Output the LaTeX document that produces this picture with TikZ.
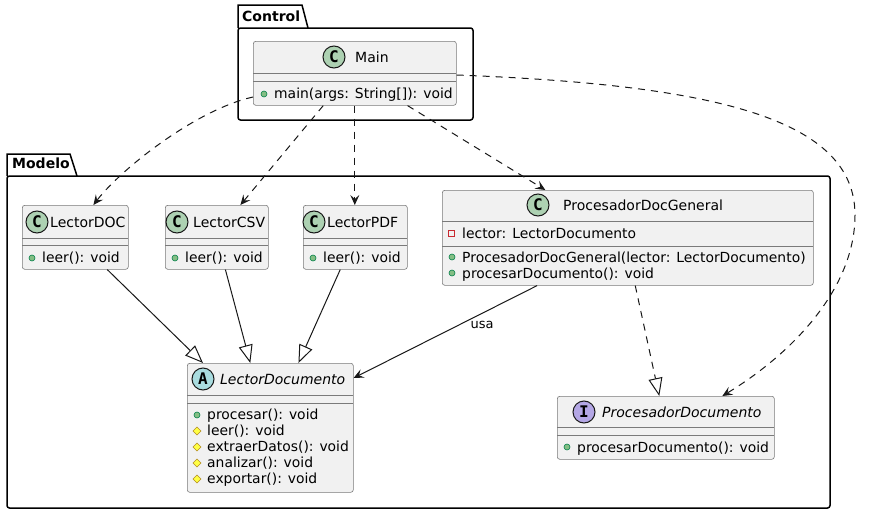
\documentclass[tikz,border=0pt]{standalone}
\usepackage{fontspec}
\setmainfont{DejaVu Sans}
\newfontfamily\spotfont{DejaVu Sans Mono}
\usetikzlibrary{arrows.meta,calc}

\definecolor{classbg}{HTML}{F1F1F1}
\definecolor{umlline}{HTML}{181818}
\definecolor{boxline}{HTML}{7A7A7A}
\definecolor{spotC}{HTML}{ADD1B2}
\definecolor{spotA}{HTML}{A9DCDF}
\definecolor{spotI}{HTML}{B4A7E5}
\definecolor{pubfill}{HTML}{84BE84}
\definecolor{publine}{HTML}{038048}
\definecolor{protfill}{HTML}{FFFF44}
\definecolor{protline}{HTML}{B38D22}
\definecolor{privline}{HTML}{C82930}

\tikzset{
  classbox/.style={draw=boxline, line width=0.6pt, fill=classbg, rounded corners=2.5pt,
    anchor=north west, inner sep=0pt},
  sepline/.style={draw=boxline, line width=0.6pt},
  spot/.style={circle, draw=umlline, line width=1pt, minimum size=22pt, inner sep=0pt,
    font=\spotfont\bfseries\fontsize{16}{16}\selectfont},
  cname/.style={anchor=base west, inner sep=0pt, font=\fontsize{14}{17}\selectfont},
  member/.style={anchor=base west, inner sep=0pt, font=\fontsize{13.9}{17}\selectfont},
  pkgbody/.style={draw=black, line width=1.5pt, rounded corners=2.5pt},
  pkgtab/.style={draw=black, line width=1.5pt},
  pkgname/.style={anchor=base west, inner sep=0pt, font=\bfseries\fontsize{14}{17}\selectfont},
  edgelabel/.style={inner sep=0pt, font=\fontsize{13}{15}\selectfont},
  depline/.style={draw=umlline, line width=1pt, dash pattern=on 7pt off 6pt,
    -{Stealth[length=10pt,width=9pt,inset=4pt]}},
  assocline/.style={draw=umlline, line width=1pt,
    -{Stealth[length=10pt,width=9pt,inset=4pt]}},
  extline/.style={draw=umlline, line width=1pt,
    -{Triangle[open,length=18pt,width=14pt,line width=1pt]}},
  realline/.style={draw=umlline, line width=1pt, dash pattern=on 7pt off 6pt,
    -{Triangle[open,length=18pt,width=14pt,line width=1pt]}},
  pubdot/.pic={\draw[publine, fill=pubfill, line width=0.6pt] (0,0) circle (3pt);},
  privsq/.pic={\draw[privline, line width=0.8pt] (-3pt,-3pt) rectangle (3pt,3pt);},
  protdia/.pic={\draw[protline, fill=protfill, line width=0.6pt]
    (-4pt,0pt) -- (0pt,-4pt) -- (4pt,0pt) -- (0pt,4pt) -- cycle;},
}

\begin{document}
\begin{tikzpicture}[x=1pt, y=-1pt]
\fill[white] (0,0) rectangle (876,514);
\useasboundingbox (0,0) rectangle (876,514);

% ---------- packages ----------
\draw[pkgtab] (238,28) -- (238,5) -- (302,5) -- (308,28);
\draw[pkgbody] (238,28) rectangle (473,120);
\node[pkgname] (control-name) at (242,21) {Control};

\draw[pkgtab] (7,176) -- (7,154) -- (70,154) -- (77,176);
\draw[pkgbody] (7,176) rectangle (830,508);
\node[pkgname] (modelo-name) at (12,168) {Modelo};

% ---------- Main ----------
\node[classbox, minimum width=203pt, minimum height=64pt] (main) at (253,41) {};
\node[spot, fill=spotC] (main-spot) at (334,57) {C};
\node[cname] (main-name) at (355,62) {Main};
\draw[sepline] (253,73) -- (456,73);
\draw[sepline] (253,81) -- (456,81);
\pic at (264,94) {pubdot};
\node[member] (main-m1) at (274,98) {main(args: String[]): void};

% ---------- LectorDOC ----------
\node[classbox, minimum width=106pt, minimum height=64pt] (doc) at (22,205) {};
\node[spot, fill=spotC] (doc-spot) at (37,222) {C};
\node[cname] (doc-name) at (50,227) {LectorDOC};
\draw[sepline] (22,238) -- (128,238);
\draw[sepline] (22,245) -- (128,245);
\pic at (32,258) {pubdot};
\node[member] (doc-m1) at (42,262) {leer(): void};

% ---------- LectorCSV ----------
\node[classbox, minimum width=103pt, minimum height=64pt] (csv) at (165,205) {};
\node[spot, fill=spotC] (csv-spot) at (177,222) {C};
\node[cname] (csv-name) at (193,227) {LectorCSV};
\draw[sepline] (165,238) -- (268,238);
\draw[sepline] (165,245) -- (268,245);
\pic at (175,258) {pubdot};
\node[member] (csv-m1) at (185,262) {leer(): void};

% ---------- LectorPDF ----------
\node[classbox, minimum width=104pt, minimum height=64pt] (pdf) at (303,205) {};
\node[spot, fill=spotC] (pdf-spot) at (314,222) {C};
\node[cname] (pdf-name) at (327,227) {LectorPDF};
\draw[sepline] (303,238) -- (407,238);
\draw[sepline] (303,245) -- (407,245);
\pic at (313,258) {pubdot};
\node[member] (pdf-m1) at (323,262) {leer(): void};

% ---------- ProcesadorDocGeneral ----------
\node[classbox, minimum width=371pt, minimum height=95pt] (gen) at (442,190) {};
\node[spot, fill=spotC] (gen-spot) at (538,205) {C};
\node[cname] (gen-name) at (563,210) {ProcesadorDocGeneral};
\draw[sepline] (442,221) -- (813,221);
\pic at (451,233) {privsq};
\node[member] (gen-f1) at (462,238) {lector: LectorDocumento};
\draw[sepline] (442,246) -- (813,246);
\pic at (452,257) {pubdot};
\node[member] (gen-m1) at (462,262) {ProcesadorDocGeneral(lector: LectorDocumento)};
\pic at (452,273) {pubdot};
\node[member] (gen-m2) at (462,278) {procesarDocumento(): void};

% ---------- LectorDocumento (abstract) ----------
\node[classbox, minimum width=166pt, minimum height=129pt] (ldoc) at (187,363) {};
\node[spot, fill=spotA] (ldoc-spot) at (203,379) {A};
\node[cname, font=\itshape\fontsize{14}{17}\selectfont] (ldoc-name) at (220,384) {LectorDocumento};
\draw[sepline] (187,395) -- (353,395);
\draw[sepline] (187,403) -- (353,403);
\pic at (197,415) {pubdot};
\node[member] (ldoc-m1) at (207,419) {procesar(): void};
\pic at (197,431) {protdia};
\node[member] (ldoc-m2) at (207,435) {leer(): void};
\pic at (197,447) {protdia};
\node[member] (ldoc-m3) at (207,451) {extraerDatos(): void};
\pic at (197,463) {protdia};
\node[member] (ldoc-m4) at (207,467) {analizar(): void};
\pic at (197,479) {protdia};
\node[member] (ldoc-m5) at (207,483) {exportar(): void};

% ---------- ProcesadorDocumento (interface) ----------
\node[classbox, minimum width=217pt, minimum height=63pt] (pdoc) at (557,396) {};
\node[spot, fill=spotI] (pdoc-spot) at (584,412) {I};
\node[cname, font=\itshape\fontsize{14}{17}\selectfont] (pdoc-name) at (602,417) {ProcesadorDocumento};
\draw[sepline] (557,427) -- (774,427);
\draw[sepline] (557,435) -- (774,435);
\pic at (567,447) {pubdot};
\node[member] (pdoc-m1) at (577,452) {procesarDocumento(): void};

% ---------- dependencies from Main ----------
\draw[depline] ($(main.north west)+(0,56)$)
  .. controls (195,110) and (120,170) .. ($(doc.north west)!0.67!(doc.north east)$);
\draw[depline] ($(main.south west)!0.345!(main.south east)$)
  -- ($(csv.north west)!0.728!(csv.north east)$);
\draw[depline] (main.south) -- (main.south |- pdf.north);
\draw[depline] ($(main.south west)!0.759!(main.south east)$)
  -- ($(gen.north west)!0.278!(gen.north east)$);
\draw[depline] ($(main.north east)+(0,34)$)
  .. controls (720,85) and (855,120) .. (855,215)
  .. controls (855,290) and (790,355) .. ($(pdoc.north west)!0.76!(pdoc.north east)$);

% ---------- generalisation ----------
\draw[extline] ($(doc.south west)!0.8!(doc.south east)$)
  -- ($(ldoc.north west)!0.096!(ldoc.north east)$);
\draw[extline] ($(csv.south west)!0.583!(csv.south east)$)
  -- ($(ldoc.north west)!0.38!(ldoc.north east)$);
\draw[extline] ($(pdf.south west)!0.356!(pdf.south east)$)
  -- ($(ldoc.north west)!0.669!(ldoc.north east)$);

% ---------- association and realisation ----------
\draw[assocline] ($(gen.south west)!0.256!(gen.south east)$)
  -- node[edgelabel, pos=0.43, xshift=24pt] (usa-label) {usa}
  ($(ldoc.north east)+(0,15)$);
\draw[realline] ($(gen.south west)!0.52!(gen.south east)$)
  -- ($(pdoc.north west)!0.47!(pdoc.north east)$);
\end{tikzpicture}
\end{document}
